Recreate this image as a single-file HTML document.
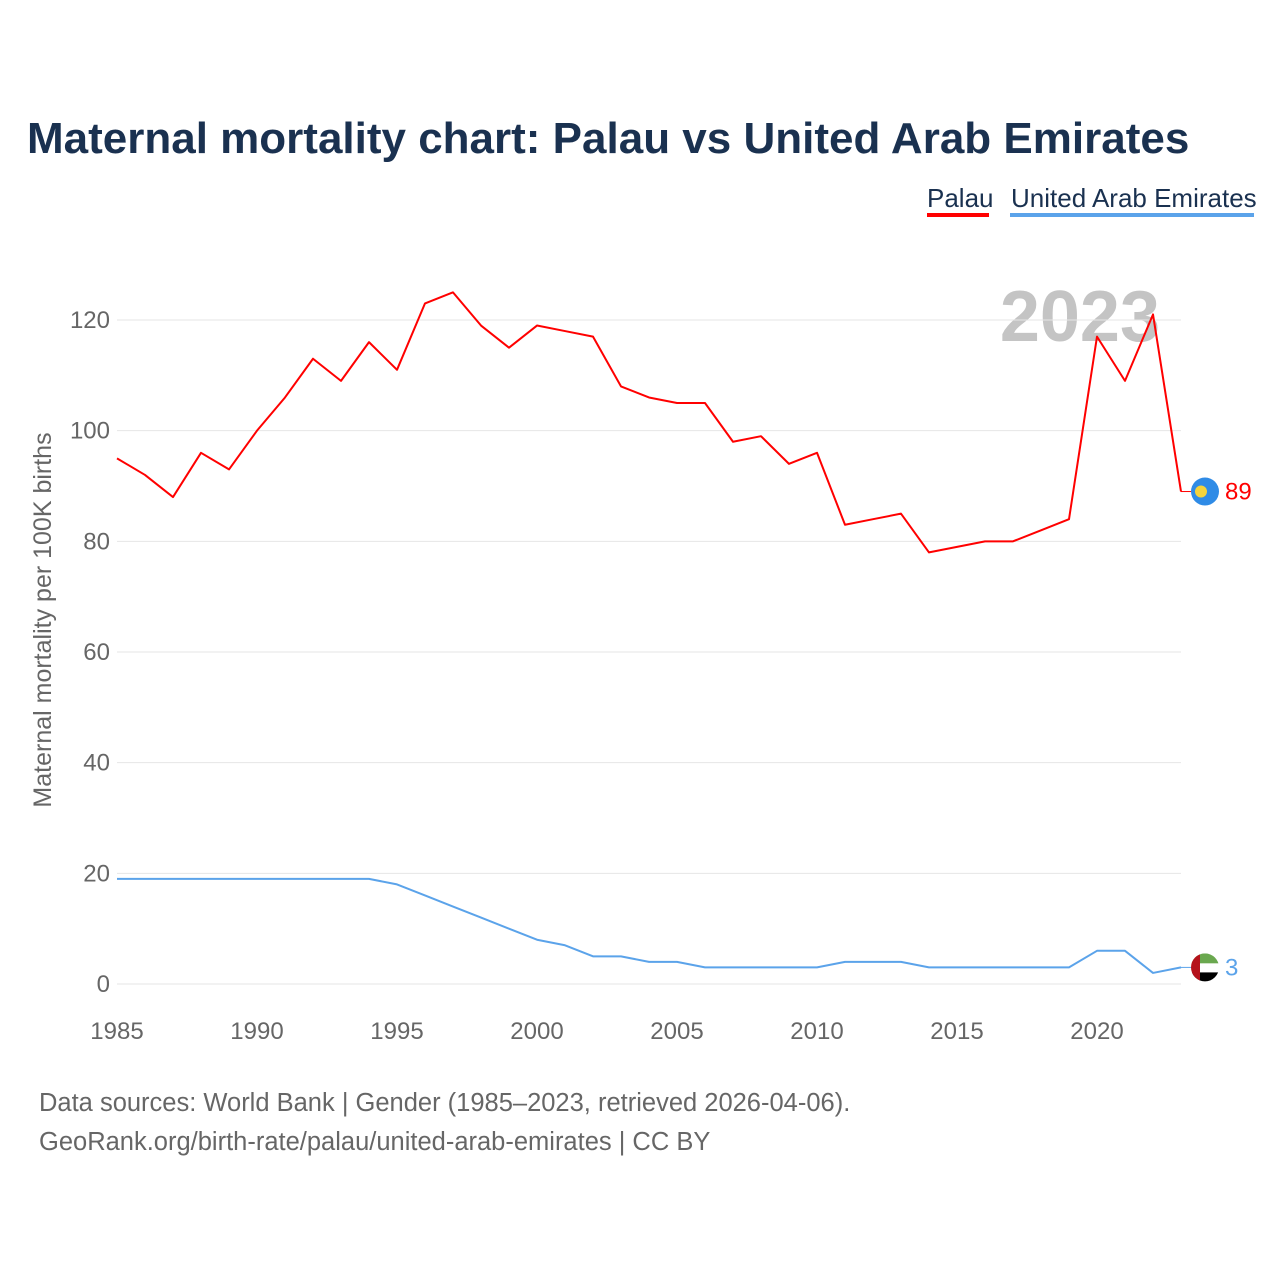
<!DOCTYPE html>
<html><head><meta charset="utf-8">
<style>
body{margin:0;background:#fff;font-family:"Liberation Sans",sans-serif;}
svg text{font-family:"Liberation Sans",sans-serif;}
</style></head>
<body>
<svg id="chart" width="1280" height="1280" viewBox="0 0 1280 1280" xmlns="http://www.w3.org/2000/svg">
<text x="27" y="153" font-size="44" font-weight="bold" fill="#1a3150">Maternal mortality chart: Palau vs United Arab Emirates</text>
<g>
<text x="927" y="207" font-size="26" fill="#1a3150">Palau</text>
<rect x="927" y="213" width="62" height="4" fill="#ff0000"/>
<text x="1011" y="207" font-size="26" fill="#1a3150">United Arab Emirates</text>
<rect x="1010" y="213" width="244" height="4" fill="#5ba3ea"/>
</g>
<text x="1160" y="341" font-size="72" font-weight="bold" fill="#c4c4c4" text-anchor="end">2023</text>
<g id="grid"></g>
<g id="xaxis"></g>
<text transform="translate(51,620) rotate(-90)" font-size="25" fill="#666" text-anchor="middle">Maternal mortality per 100K births</text>
<g id="series"></g>
<text x="39" y="1111" font-size="25.5" fill="#666">Data sources: World Bank | Gender (1985–2023, retrieved 2026-04-06).</text>
<text x="39" y="1150" font-size="25.5" fill="#666">GeoRank.org/birth-rate/palau/united-arab-emirates | CC BY</text>
</svg>
<script>
const years=[1985,1986,1987,1988,1989,1990,1991,1992,1993,1994,1995,1996,1997,1998,1999,2000,2001,2002,2003,2004,2005,2006,2007,2008,2009,2010,2011,2012,2013,2014,2015,2016,2017,2018,2019,2020,2021,2022,2023];
const palau=[95,92,88,96,93,100,106,113,109,116,111,123,125,119,115,119,118,117,108,106,105,105,98,99,94,96,83,84,85,78,79,80,80,82,84,117,109,121,89];
const uae=[19,19,19,19,19,19,19,19,19,19,18,16,14,12,10,8,7,5,5,4,4,3,3,3,3,3,4,4,4,3,3,3,3,3,3,6,6,2,3];
const yTicks=[0,20,40,60,80,100,120];
const xTicks=[1985,1990,1995,2000,2005,2010,2015,2020];
const NS="http://www.w3.org/2000/svg";
const x=v=>117+(v-1985)*28;
const y=v=>984-v*(664/120);
function mk(tag,attrs,parent){const e=document.createElementNS(NS,tag);for(const k in attrs)e.setAttribute(k,attrs[k]);parent.appendChild(e);return e;}
const grid=document.getElementById('grid');
yTicks.forEach(t=>{
  const l=mk('line',{x1:117,x2:1181,y1:y(t),y2:y(t),stroke:'#e6e6e6','stroke-width':1},grid);
  
  
  const tx=mk('text',{x:110,y:y(t)+8,'font-size':24,fill:'#666','text-anchor':'end'},grid);
  tx.textContent=t;
  
  
});
const xa=document.getElementById('xaxis');
xTicks.forEach(t=>{
  const tx=mk('text',{x:x(t),y:1039,'font-size':24,fill:'#666','text-anchor':'middle'},xa);
  tx.textContent=t;
  
  
});
const s=document.getElementById('series');
function line(vals,color,name){
  const pts=vals.map((v,i)=>x(years[i])+','+y(v)).join(' ');
  const p=mk('polyline',{points:pts,fill:'none',stroke:color,'stroke-width':2,'stroke-linejoin':'round'},s);
  
  
}
line(palau,'#ff0000','palau');
line(uae,'#5ba3ea','uae');
const lp=palau[palau.length-1], lu=uae[uae.length-1], lx=x(years[years.length-1]);
mk('line',{x1:lx,y1:y(lp),x2:lx+10,y2:y(lp),stroke:'#ff0000','stroke-width':1},s);
const f1=mk('circle',{cx:lx+24,cy:y(lp),r:14,fill:'#2f8be6'},s);


mk('circle',{cx:lx+20,cy:y(lp),r:6,fill:'#f5d33b'},s);
const t1=mk('text',{x:lx+44,y:y(lp)+8,'font-size':24,fill:'#ff0000'},s);
t1.textContent=lp;


const cy=y(lu), cx=lx+24;
const g=mk('g',{},s);


mk('clipPath',{id:'fc'},g).appendChild(document.createElementNS(NS,'circle'));
const cc=g.querySelector('clipPath circle');cc.setAttribute('cx',cx);cc.setAttribute('cy',cy);cc.setAttribute('r',14);
const fg=mk('g',{'clip-path':'url(#fc)'},g);
mk('rect',{x:cx-14,y:cy-14,width:28,height:10,fill:'#6aa84f'},fg);
mk('rect',{x:cx-14,y:cy-4,width:28,height:9,fill:'#fff'},fg);
mk('rect',{x:cx-14,y:cy+5,width:28,height:10,fill:'#000'},fg);
mk('rect',{x:cx-14,y:cy-14,width:9,height:28,fill:'#b5121b'},fg);
mk('line',{x1:lx,y1:cy,x2:cx-14,y2:cy,stroke:'#5ba3ea','stroke-width':1},s);
const t2=mk('text',{x:lx+44,y:cy+8,'font-size':24,fill:'#5ba3ea'},s);
t2.textContent=lu;


</script>
</body></html>
